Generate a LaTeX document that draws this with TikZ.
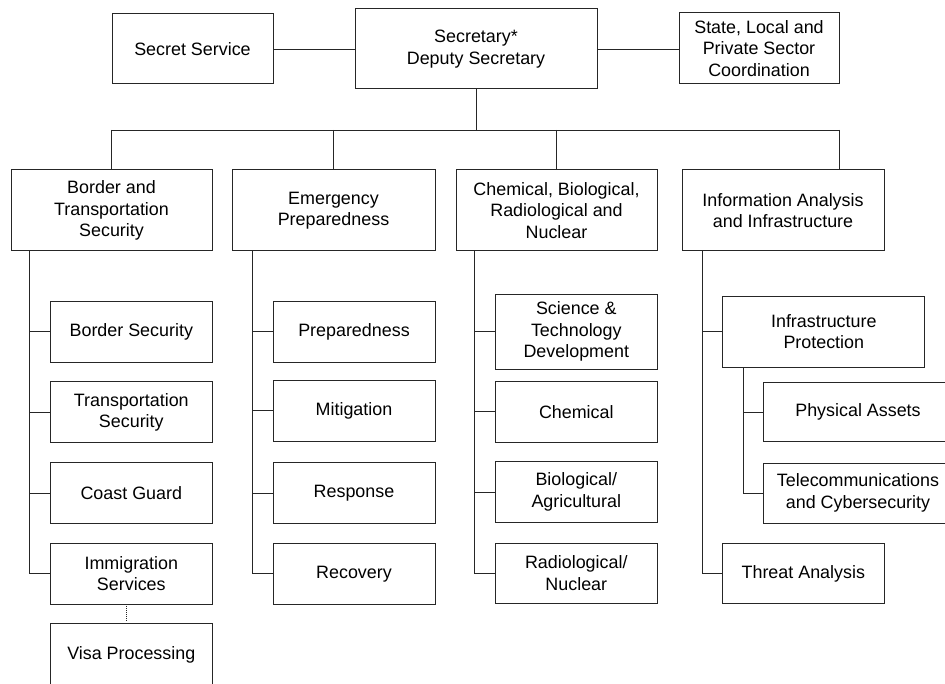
\documentclass[tikz,border=0pt]{standalone}
\usepackage{fontspec}
\setmainfont{Liberation Sans}
\begin{document}
\begin{tikzpicture}[x=1pt,y=-1pt,
  box/.style={draw=black!85, line width=1pt, align=center, inner sep=0pt, outer sep=0pt,
    font=\fontsize{17.9}{21.5}\selectfont},
  sz/.style 2 args={minimum width=#1pt, minimum height=#2pt},
  conn/.style={draw=black!85, line width=0.9pt}]
\clip (0,0) rectangle (945,684);
\useasboundingbox (0,0) rectangle (945,684);
% top row
\node[box, sz={161}{70}] (ss) at (192.5,49) {Secret Service};
\node[box, sz={242}{80}] (sec) at (476,49) {Secretary*\\Deputy Secretary};
\node[box, sz={160}{71}] (state) at (759,48.5) {State, Local and\\Private Sector\\Coordination};
% level 2
\node[box, sz={201}{81}] (bts) at (111.5,210.5) {Border and\\Transportation\\Security};
\node[box, sz={203}{81}] (ep) at (333.5,210.5) {Emergency\\Preparedness};
\node[box, sz={201}{81}] (cbrn) at (556.5,210.5) {Chemical, Biological,\\Radiological and\\Nuclear};
\node[box, sz={202}{81}] (iai) at (783,210.5) {Information Analysis\\and Infrastructure};
% BTS subs
\node[box, sz={162.5}{61}] (bs) at (131.3,331.7) {Border Security};
\node[box, sz={162.5}{61}] (ts) at (131.3,412.3) {Transportation\\Security};
\node[box, sz={162.5}{61}] (cg) at (131.3,493) {Coast Guard};
\node[box, sz={162.5}{61}] (imm) at (131.3,573.8) {Immigration\\Services};
\node[box, sz={162.5}{64}] (visa) at (131.3,655) {Visa Processing};
% EP subs
\node[box, sz={162}{61}] (prep) at (354,331.7) {Preparedness};
\node[box, sz={162}{61}] (mit) at (354,410.8) {Mitigation};
\node[box, sz={162}{61}] (resp) at (354,493) {Response};
\node[box, sz={162}{61}] (rec) at (354,573.8) {Recovery};
% CBRN subs
\node[box, sz={162}{75}] (sci) at (576.3,331.7) {Science \&\\Technology\\Development};
\node[box, sz={162}{61}] (chem) at (576.3,411.7) {Chemical};
\node[box, sz={162}{61}] (bio) at (576.3,492) {Biological/\\Agricultural};
\node[box, sz={162}{60}] (rad) at (576.3,573) {Radiological/\\Nuclear};
% IAI subs
\node[box, sz={202}{71}] (ip) at (823.8,331.7) {Infrastructure\\Protection};
\node[box, sz={190}{59.5}] (pa) at (858,412) {Physical Assets};
\node[box, sz={190}{60}] (tel) at (858,493) {Telecommunications\\and Cybersecurity};
\node[box, sz={162}{60}] (ta) at (803.3,573.5) {Threat Analysis};
% top connectors
\draw[conn] (ss.east) -- (sec.west);
\draw[conn] (sec.east) -- (sec.east -| state.west);
\coordinate (bus) at (476,130);
\coordinate (busL) at (111.5,130);
\coordinate (busR) at (839,130);
\draw[conn] (sec.south) -- (bus);
\draw[conn] (busL) -- (busR);
\draw[conn] (busL) -- (bts.north);
\draw[conn] (ep.north |- bus) -- (ep.north);
\draw[conn] (cbrn.north |- bus) -- (cbrn.north);
\draw[conn] (busR) -- (busR |- iai.north);
% trunks
\coordinate (btsT) at ([xshift=18pt]bts.south west);
\draw[conn] (btsT) |- (imm.west);
\foreach \n in {bs,ts,cg} \draw[conn] (btsT |- \n.west) -- (\n.west);
\coordinate (epT) at ([xshift=20.5pt]ep.south west);
\draw[conn] (epT) |- (rec.west);
\foreach \n in {prep,mit,resp} \draw[conn] (epT |- \n.west) -- (\n.west);
\coordinate (cbrnT) at ([xshift=18.5pt]cbrn.south west);
\draw[conn] (cbrnT) |- (rad.west);
\foreach \n in {sci,chem,bio} \draw[conn] (cbrnT |- \n.west) -- (\n.west);
\coordinate (iaiT) at ([xshift=20.5pt]iai.south west);
\draw[conn] (iaiT) |- (ta.west);
\draw[conn] (iaiT |- ip.west) -- (ip.west);
\coordinate (ipT) at ([xshift=20.3pt]ip.south west);
\draw[conn] (ipT) |- (tel.west);
\draw[conn] (ipT |- pa.west) -- (pa.west);
% dotted link
\draw[draw=black!85, line width=0.8pt, dash pattern=on 0.8pt off 1.2pt] ([xshift=-4.5pt,yshift=-1.5pt]imm.south) -- ([xshift=-4.5pt,yshift=2.5pt]visa.north);
\end{tikzpicture}
\end{document}
